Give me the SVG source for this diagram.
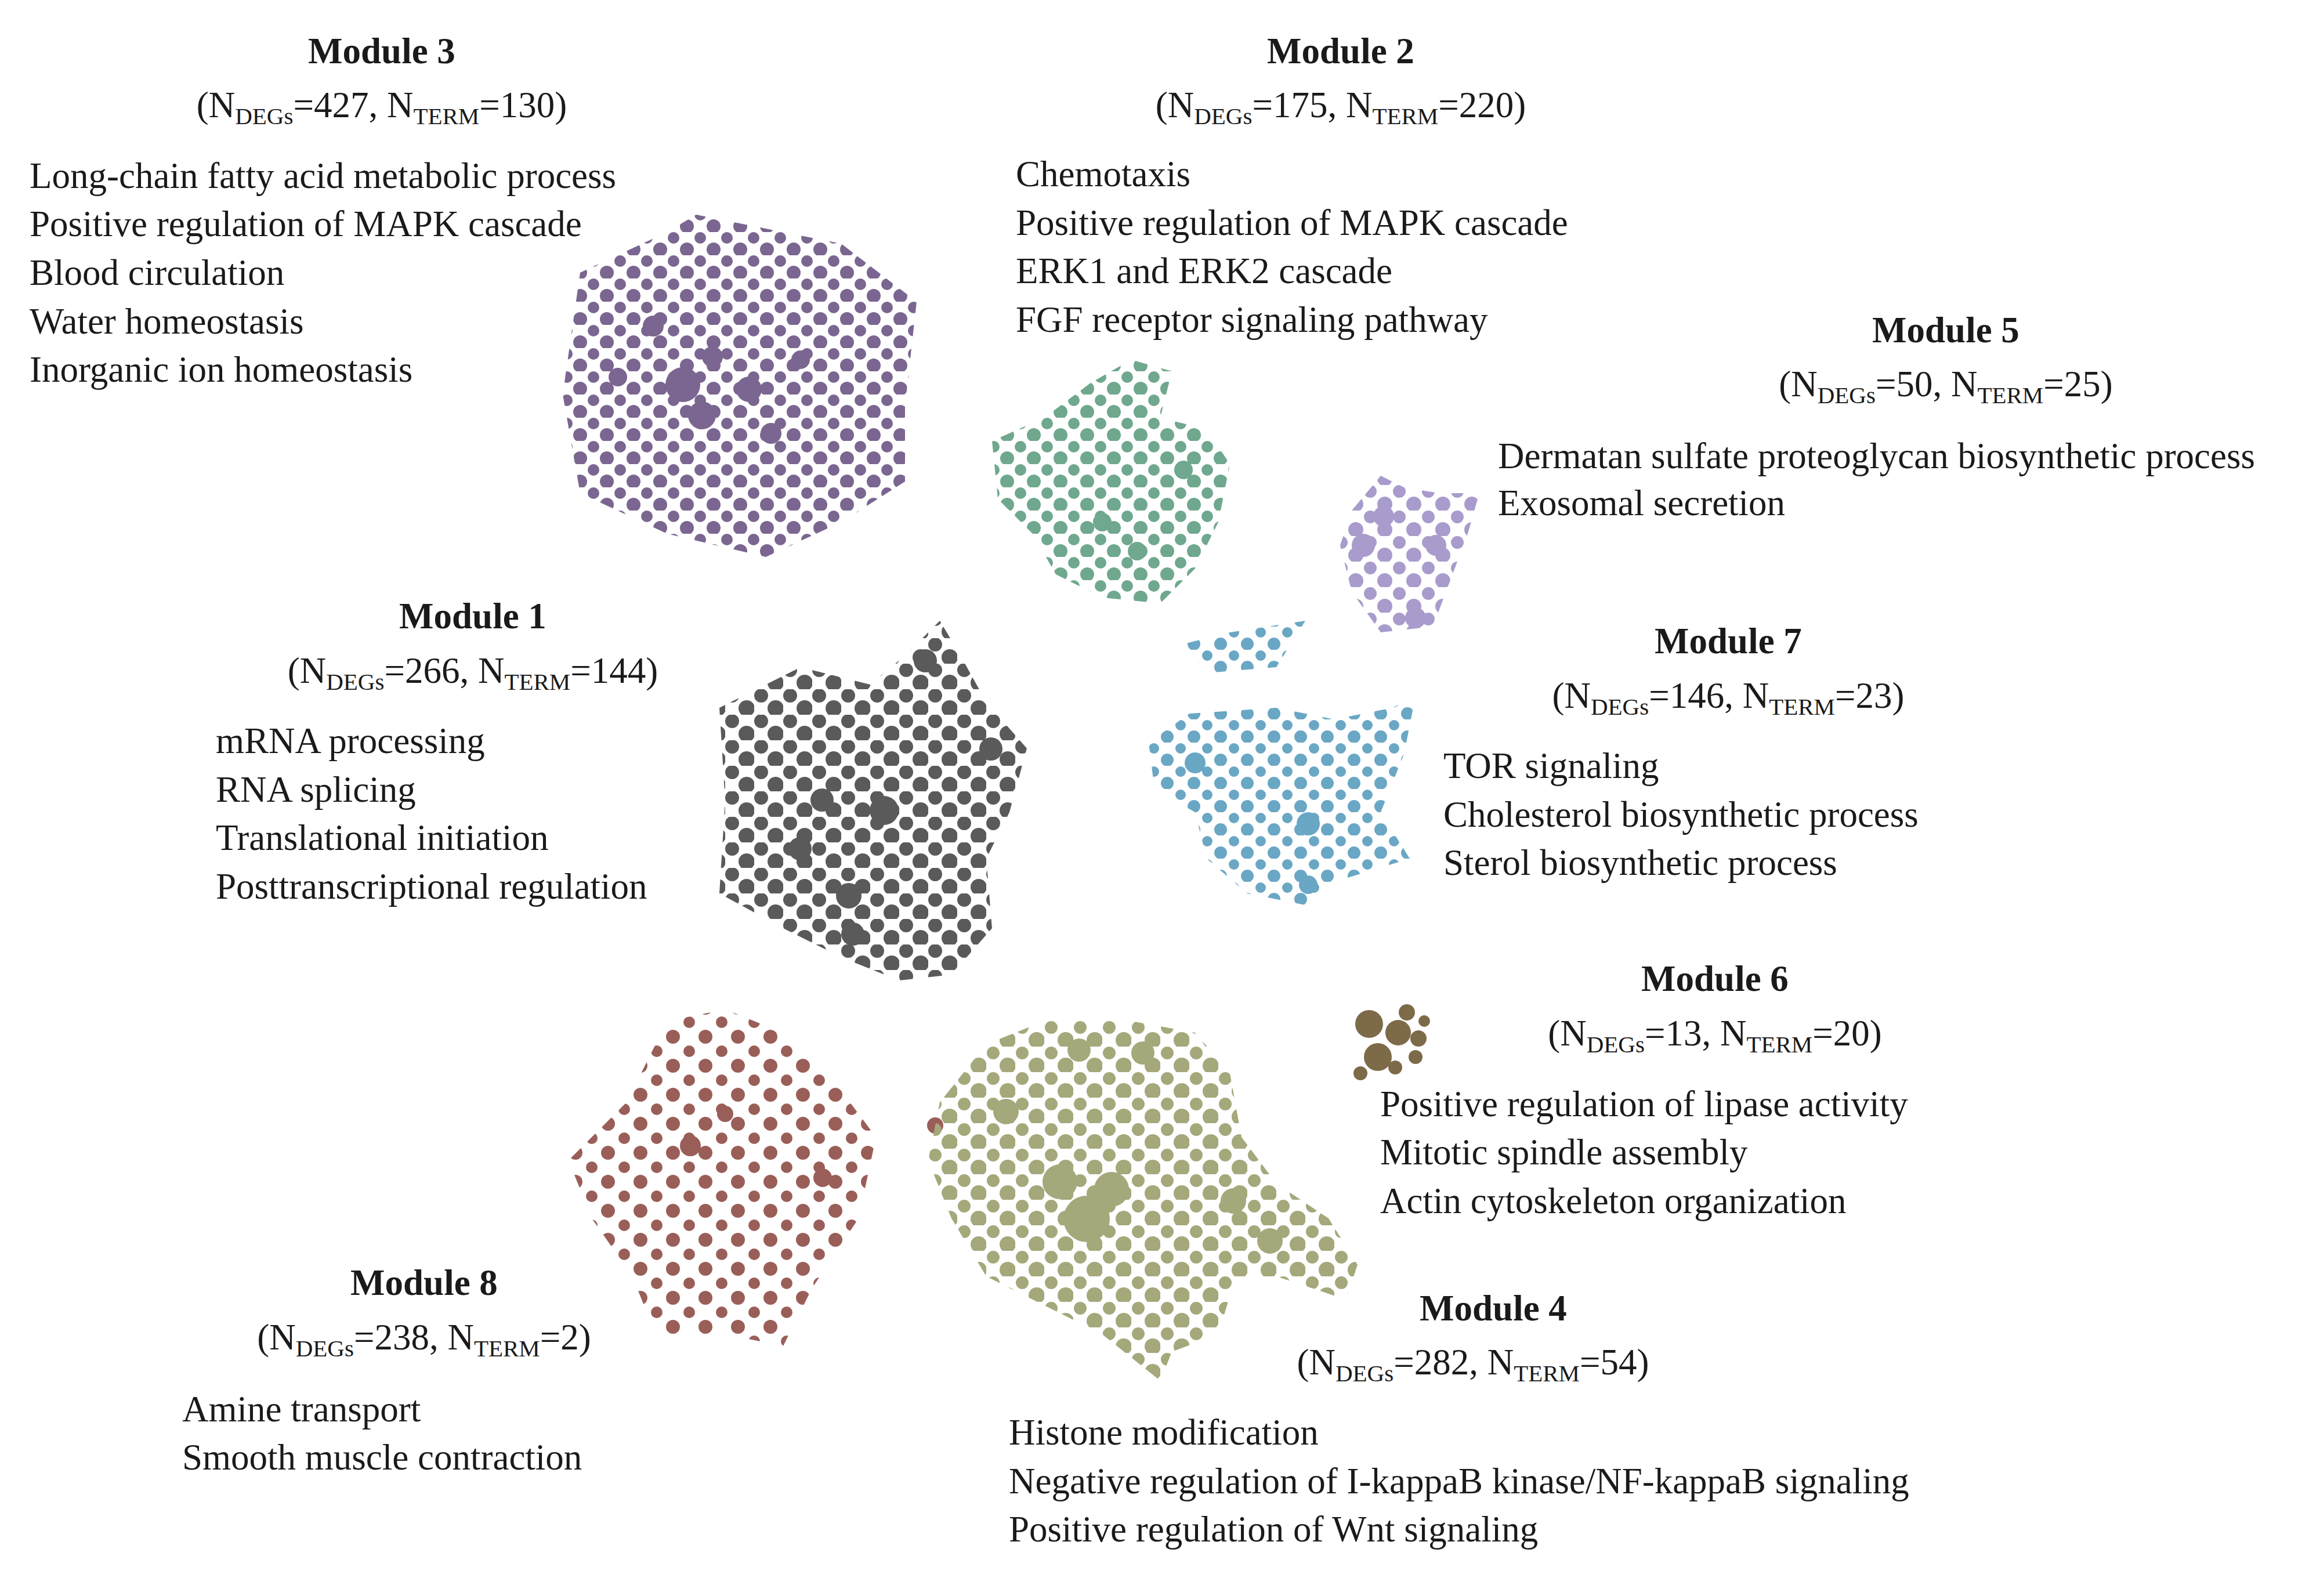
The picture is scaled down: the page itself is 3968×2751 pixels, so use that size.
<svg xmlns="http://www.w3.org/2000/svg" width="3968" height="2751" viewBox="0 0 3968 2751">
<style>
text{font-family:"Liberation Serif",serif;font-size:63px;fill:#1a1a1a}
.t{font-weight:bold;text-anchor:middle}
.s{text-anchor:middle}
.sub{font-size:41px}
</style>
<defs>
<pattern id="p3" patternUnits="userSpaceOnUse" width="46" height="40"><circle cx="11" cy="10" r="10" fill="#7a6690"/><circle cx="34" cy="30" r="12" fill="#7a6690"/></pattern>
<pattern id="p2" patternUnits="userSpaceOnUse" width="46" height="40"><circle cx="11" cy="10" r="10" fill="#6fa88e"/><circle cx="34" cy="30" r="12" fill="#6fa88e"/></pattern>
<pattern id="p5" patternUnits="userSpaceOnUse" width="50" height="44"><circle cx="12" cy="11" r="11" fill="#a99ccc"/><circle cx="37" cy="33" r="13" fill="#a99ccc"/></pattern>
<pattern id="p1" patternUnits="userSpaceOnUse" width="50" height="44"><circle cx="12" cy="11" r="12" fill="#5a5a5a"/><circle cx="37" cy="33" r="14" fill="#5a5a5a"/></pattern>
<pattern id="p7" patternUnits="userSpaceOnUse" width="46" height="40"><circle cx="11" cy="10" r="9" fill="#6aa7c4"/><circle cx="34" cy="30" r="11" fill="#6aa7c4"/></pattern>
<pattern id="p8" patternUnits="userSpaceOnUse" width="56" height="50"><circle cx="12" cy="12" r="10" fill="#9a5e58"/><circle cx="40" cy="37" r="12" fill="#9a5e58"/></pattern>
<pattern id="p4" patternUnits="userSpaceOnUse" width="50" height="44"><circle cx="12" cy="11" r="11" fill="#a5a87a"/><circle cx="37" cy="33" r="14" fill="#a5a87a"/></pattern>
</defs>
<rect width="3968" height="2751" fill="#fff"/>

<g id="module3">
<polygon points="1000,470 1150,400 1200,370 1300,390 1450,420 1580,520 1560,700 1560,830 1450,900 1320,960 1150,920 1000,850 970,680" fill="url(#p3)"/>
<g fill="#7a6690"><circle cx="1177" cy="663" r="30"/><circle cx="1210" cy="716" r="24"/><circle cx="1291" cy="671" r="22"/><circle cx="1126" cy="562" r="18"/><circle cx="1228" cy="615" r="18"/><circle cx="1329" cy="747" r="18"/><circle cx="1065" cy="650" r="16"/><circle cx="1380" cy="620" r="16"/></g>
<text class="t" x="658" y="109">Module 3</text>
<text class="s" x="658" y="202">(N<tspan class="sub" dy="12">DEGs</tspan><tspan dy="-12">=427, N</tspan><tspan class="sub" dy="12">TERM</tspan><tspan dy="-12">=130)</tspan></text>
<text x="51" y="324">Long-chain fatty acid metabolic process</text>
<text x="51" y="407">Positive regulation of MAPK cascade</text>
<text x="51" y="491">Blood circulation</text>
<text x="51" y="575">Water homeostasis</text>
<text x="51" y="658">Inorganic ion homeostasis</text>
</g>

<g id="module2">
<polygon points="1710,760 1800,720 1880,660 1950,620 2020,640 2000,720 2080,740 2120,800 2100,900 2060,980 2000,1040 1900,1030 1820,990 1780,920 1720,860" fill="url(#p2)"/>
<g fill="#6fa88e"><circle cx="1960" cy="950" r="16"/><circle cx="1900" cy="900" r="16"/><circle cx="2040" cy="810" r="16"/></g>
<text class="t" x="2311" y="109">Module 2</text>
<text class="s" x="2311" y="202">(N<tspan class="sub" dy="12">DEGs</tspan><tspan dy="-12">=175, N</tspan><tspan class="sub" dy="12">TERM</tspan><tspan dy="-12">=220)</tspan></text>
<text x="1751" y="321">Chemotaxis</text>
<text x="1751" y="405">Positive regulation of MAPK cascade</text>
<text x="1751" y="488">ERK1 and ERK2 cascade</text>
<text x="1751" y="572">FGF receptor signaling pathway</text>
</g>

<g id="module5">
<polygon points="2330,880 2380,820 2420,840 2480,850 2550,850 2530,920 2500,1000 2470,1080 2380,1090 2330,1020 2310,940" fill="url(#p5)"/>
<g fill="#a99ccc"><circle cx="2350" cy="940" r="20"/><circle cx="2385" cy="890" r="18"/><circle cx="2440" cy="1065" r="18"/><circle cx="2475" cy="940" r="18"/></g>
<text class="t" x="3354" y="590">Module 5</text>
<text class="s" x="3354" y="683">(N<tspan class="sub" dy="12">DEGs</tspan><tspan dy="-12">=50, N</tspan><tspan class="sub" dy="12">TERM</tspan><tspan dy="-12">=25)</tspan></text>
<text x="2582" y="807">Dermatan sulfate proteoglycan biosynthetic process</text>
<text x="2582" y="888">Exosomal secretion</text>
</g>

<g id="module1">
<polygon points="1240,1220 1300,1190 1380,1150 1500,1180 1560,1130 1620,1070 1650,1120 1700,1210 1770,1290 1740,1400 1700,1480 1710,1600 1640,1680 1550,1690 1450,1650 1350,1600 1240,1540 1250,1380" fill="url(#p1)"/>
<g fill="#5a5a5a"><circle cx="1524" cy="1397" r="25"/><circle cx="1463" cy="1544" r="22"/><circle cx="1379" cy="1463" r="20"/><circle cx="1595" cy="1139" r="20"/><circle cx="1708" cy="1291" r="20"/><circle cx="1417" cy="1379" r="20"/><circle cx="1470" cy="1610" r="20"/></g>
<text class="t" x="815" y="1083">Module 1</text>
<text class="s" x="815" y="1177">(N<tspan class="sub" dy="12">DEGs</tspan><tspan dy="-12">=266, N</tspan><tspan class="sub" dy="12">TERM</tspan><tspan dy="-12">=144)</tspan></text>
<text x="372" y="1298">mRNA processing</text>
<text x="372" y="1382">RNA splicing</text>
<text x="372" y="1465">Translational initiation</text>
<text x="372" y="1549">Posttranscriptional regulation</text>
</g>

<g id="module7">
<polygon points="2040,1110 2120,1090 2250,1070 2200,1150 2080,1160" fill="url(#p7)"/>
<polygon points="1980,1280 2050,1230 2200,1220 2300,1240 2400,1220 2440,1200 2420,1300 2380,1400 2430,1480 2300,1520 2250,1560 2150,1540 2080,1480 2060,1400 1990,1360" fill="url(#p7)"/>
<g fill="#6aa7c4"><circle cx="2060" cy="1315" r="18"/><circle cx="2255" cy="1420" r="20"/><circle cx="2255" cy="1525" r="16"/></g>
<text class="t" x="2979" y="1126">Module 7</text>
<text class="s" x="2979" y="1220">(N<tspan class="sub" dy="12">DEGs</tspan><tspan dy="-12">=146, N</tspan><tspan class="sub" dy="12">TERM</tspan><tspan dy="-12">=23)</tspan></text>
<text x="2488" y="1341">TOR signaling</text>
<text x="2488" y="1425">Cholesterol biosynthetic process</text>
<text x="2488" y="1508">Sterol biosynthetic process</text>
</g>

<g id="module6">
<g fill="#7d6a48"><circle cx="2360" cy="1765" r="24"/><circle cx="2375" cy="1822" r="24"/><circle cx="2410" cy="1780" r="22"/><circle cx="2425" cy="1745" r="14"/><circle cx="2445" cy="1790" r="14"/><circle cx="2440" cy="1822" r="12"/><circle cx="2345" cy="1850" r="12"/><circle cx="2405" cy="1840" r="12"/><circle cx="2455" cy="1760" r="10"/></g>
<text class="t" x="2956" y="1708">Module 6</text>
<text class="s" x="2956" y="1802">(N<tspan class="sub" dy="12">DEGs</tspan><tspan dy="-12">=13, N</tspan><tspan class="sub" dy="12">TERM</tspan><tspan dy="-12">=20)</tspan></text>
<text x="2379" y="1924">Positive regulation of lipase activity</text>
<text x="2379" y="2007">Mitotic spindle assembly</text>
<text x="2379" y="2091">Actin cytoskeleton organization</text>
</g>

<g id="module8">
<polygon points="980,2000 1080,1900 1150,1760 1250,1740 1350,1780 1450,1880 1510,1960 1480,2100 1400,2220 1350,2320 1250,2300 1130,2300 1090,2200 1020,2100" fill="url(#p8)"/>
<g fill="#9a5e58"><circle cx="1190" cy="1975" r="18"/><circle cx="1418" cy="2030" r="16"/><circle cx="1250" cy="1920" r="14"/><circle cx="1612" cy="1940" r="14"/></g>
<text class="t" x="731" y="2232">Module 8</text>
<text class="s" x="731" y="2326">(N<tspan class="sub" dy="12">DEGs</tspan><tspan dy="-12">=238, N</tspan><tspan class="sub" dy="12">TERM</tspan><tspan dy="-12">=2)</tspan></text>
<text x="314" y="2450">Amine transport</text>
<text x="314" y="2533">Smooth muscle contraction</text>
</g>

<g id="module4">
<polygon points="1620,1900 1700,1800 1800,1760 1950,1760 2060,1780 2120,1850 2140,1960 2200,2040 2290,2100 2340,2180 2320,2240 2200,2200 2130,2200 2100,2300 2020,2330 2000,2380 1900,2300 1780,2240 1700,2200 1640,2100 1600,2000" fill="url(#p4)"/>
<g fill="#a5a87a"><circle cx="1873" cy="2101" r="40"/><circle cx="1827" cy="2037" r="30"/><circle cx="1916" cy="2050" r="30"/><circle cx="1734" cy="1916" r="22"/><circle cx="2126" cy="2070" r="22"/><circle cx="2189" cy="2139" r="22"/><circle cx="1970" cy="1815" r="20"/><circle cx="1860" cy="1810" r="20"/></g>
<text class="t" x="2574" y="2276">Module 4</text>
<text class="s" x="2539" y="2369">(N<tspan class="sub" dy="12">DEGs</tspan><tspan dy="-12">=282, N</tspan><tspan class="sub" dy="12">TERM</tspan><tspan dy="-12">=54)</tspan></text>
<text x="1739" y="2490">Histone modification</text>
<text x="1739" y="2574">Negative regulation of I-kappaB kinase/NF-kappaB signaling</text>
<text x="1739" y="2657">Positive regulation of Wnt signaling</text>
</g>
<g id="connectors"/>
</svg>
